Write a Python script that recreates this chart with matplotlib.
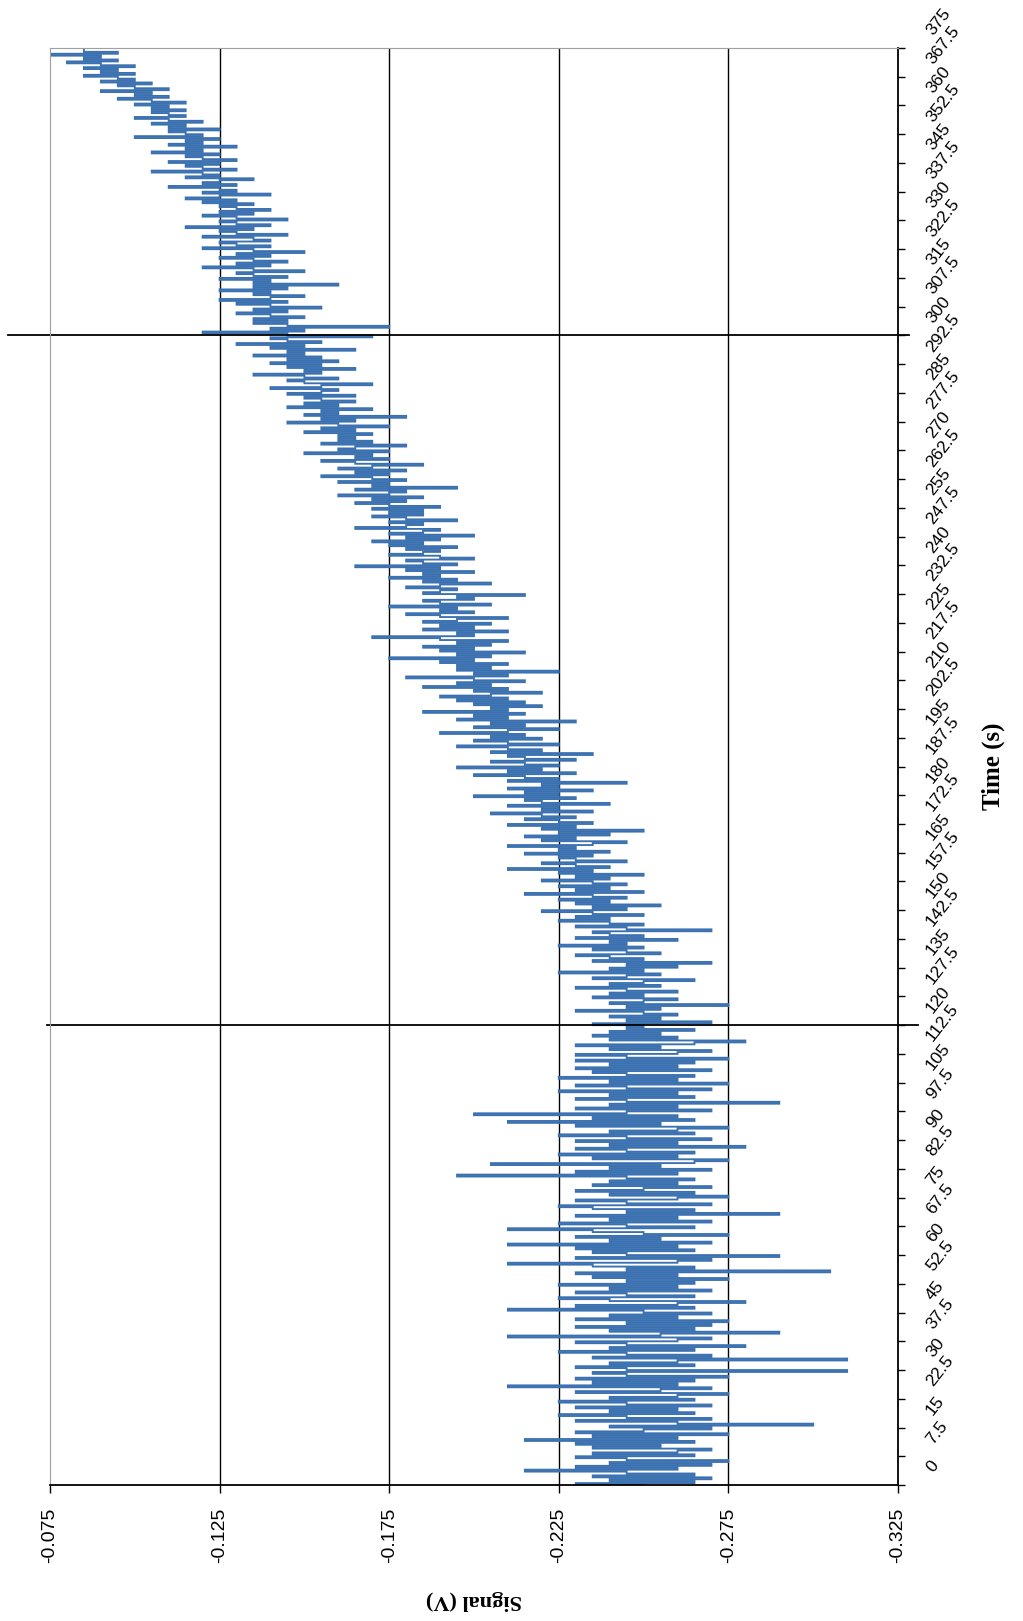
import numpy as np
import matplotlib
matplotlib.use("Agg")
import matplotlib.pyplot as plt

# ---------------- data ----------------
# signal samples (V), one every 0.5 s starting at t = 0
signal = [
    # baseline (before first event)
    -0.250, -0.230, -0.265, -0.240, -0.270, -0.235, -0.265, -0.245, -0.215, -0.260, -0.230, -0.270, -0.240, -0.275, -0.245, -0.230, -0.265, -0.235, -0.260, -0.270,
    -0.235, -0.255, -0.230, -0.265, -0.215, -0.260, -0.235, -0.275, -0.230, -0.250, -0.270, -0.240, -0.300, -0.260, -0.230, -0.270, -0.245, -0.225, -0.265, -0.240,
    -0.260, -0.230, -0.270, -0.245, -0.225, -0.265, -0.240, -0.260, -0.275, -0.230, -0.255, -0.270, -0.210, -0.260, -0.235, -0.265, -0.230, -0.275, -0.245, -0.235,
    -0.310, -0.245, -0.230, -0.265, -0.240, -0.260, -0.310, -0.235, -0.270, -0.245, -0.225, -0.265, -0.240, -0.280, -0.245, -0.230, -0.260, -0.270, -0.210, -0.255,
    -0.290, -0.240, -0.265, -0.230, -0.270, -0.245, -0.275, -0.230, -0.260, -0.240, -0.270, -0.250, -0.210, -0.265, -0.230, -0.260, -0.280, -0.240, -0.225, -0.265,
    -0.245, -0.230, -0.270, -0.240, -0.260, -0.225, -0.265, -0.245, -0.275, -0.235, -0.260, -0.230, -0.305, -0.245, -0.265, -0.235, -0.210, -0.260, -0.270, -0.230,
    -0.290, -0.245, -0.235, -0.265, -0.230, -0.260, -0.210, -0.270, -0.240, -0.255, -0.230, -0.275, -0.250, -0.235, -0.210, -0.265, -0.245, -0.225, -0.270, -0.240,
    -0.260, -0.230, -0.290, -0.245, -0.265, -0.235, -0.225, -0.270, -0.245, -0.230, -0.260, -0.275, -0.240, -0.265, -0.230, -0.250, -0.270, -0.235, -0.260, -0.240,
    -0.265, -0.245, -0.195, -0.260, -0.230, -0.270, -0.240, -0.255, -0.205, -0.265, -0.275, -0.235, -0.260, -0.225, -0.265, -0.245, -0.230, -0.280, -0.240, -0.260,
    -0.230, -0.270, -0.245, -0.225, -0.265, -0.240, -0.260, -0.275, -0.230, -0.255, -0.210, -0.265, -0.235, -0.260, -0.200, -0.245, -0.270, -0.230, -0.260, -0.240,
    -0.290, -0.245, -0.230, -0.265, -0.240, -0.260, -0.225, -0.270, -0.245, -0.230, -0.275, -0.240, -0.260, -0.225, -0.265, -0.245, -0.235, -0.270, -0.230, -0.260,
    -0.240, -0.265, -0.230, -0.275, -0.245, -0.230, -0.260, -0.270, -0.240, -0.255, -0.230, -0.265, -0.280, -0.240, -0.260, -0.235,
    # drift between the two events
    -0.255, -0.240, -0.265, -0.245, -0.250, -0.235, -0.270, -0.245, -0.255, -0.240, -0.260, -0.250, -0.230, -0.255, -0.245, -0.275, -0.240, -0.250, -0.260, -0.235,
    -0.250, -0.240, -0.260, -0.245, -0.230, -0.255, -0.240, -0.250, -0.265, -0.235, -0.245, -0.255, -0.225, -0.250, -0.240, -0.260, -0.245, -0.270, -0.235, -0.250,
    -0.240, -0.230, -0.255, -0.245, -0.235, -0.250, -0.225, -0.245, -0.240, -0.260, -0.230, -0.250, -0.240, -0.235, -0.270, -0.245, -0.230, -0.250, -0.240, -0.225,
    -0.240, -0.230, -0.250, -0.235, -0.220, -0.245, -0.235, -0.255, -0.230, -0.240, -0.225, -0.245, -0.235, -0.215, -0.250, -0.230, -0.240, -0.225, -0.245, -0.235,
    -0.220, -0.240, -0.230, -0.250, -0.225, -0.235, -0.210, -0.240, -0.230, -0.220, -0.245, -0.230,
    -0.225, -0.235, -0.215, -0.240, -0.225, -0.230, -0.210, -0.235, -0.245, -0.220, -0.230, -0.215, -0.240, -0.225, -0.250, -0.220, -0.230, -0.210, -0.235, -0.225,
    -0.215, -0.230, -0.220, -0.205, -0.235, -0.220, -0.225, -0.210, -0.240, -0.220, -0.215, -0.230, -0.200, -0.225, -0.215, -0.235, -0.210, -0.225, -0.220, -0.245,
    -0.210, -0.225, -0.215, -0.200, -0.230, -0.210, -0.220, -0.195, -0.225, -0.215, -0.205, -0.230, -0.215, -0.210, -0.235, -0.205, -0.220, -0.210, -0.195, -0.225,
    -0.210, -0.200, -0.220, -0.205, -0.215, -0.190, -0.210, -0.225, -0.200, -0.215, -0.205, -0.230, -0.195, -0.210, -0.200, -0.215, -0.185, -0.210, -0.205, -0.220,
    -0.200, -0.215, -0.195, -0.210, -0.190, -0.205, -0.220, -0.200, -0.210, -0.185, -0.205, -0.195, -0.215, -0.200, -0.180, -0.210, -0.200, -0.225, -0.195, -0.205,
    -0.195, -0.210, -0.190, -0.200, -0.175, -0.205, -0.195, -0.215, -0.190, -0.200, -0.185, -0.205, -0.195, -0.210, -0.190, -0.170, -0.200, -0.195, -0.210, -0.185,
    -0.200, -0.190, -0.205, -0.185, -0.195, -0.210, -0.190, -0.180, -0.200, -0.190, -0.195, -0.175, -0.205, -0.190, -0.185, -0.200, -0.195, -0.215, -0.185, -0.190,
    -0.195, -0.180, -0.190, -0.205, -0.185, -0.195, -0.175, -0.190, -0.185, -0.200, -0.180, -0.190, -0.165, -0.195, -0.185, -0.180, -0.200, -0.190, -0.175, -0.185,
    -0.190, -0.180, -0.195, -0.175, -0.185, -0.170, -0.190, -0.180, -0.200, -0.175, -0.185, -0.190, -0.165, -0.180, -0.185, -0.175, -0.195, -0.180, -0.170, -0.185,
    -0.175, -0.185, -0.170, -0.190, -0.175, -0.165, -0.180, -0.170, -0.185, -0.160, -0.175, -0.180, -0.165, -0.195, -0.170, -0.175, -0.160, -0.180, -0.170, -0.155,
    -0.175, -0.165, -0.180, -0.160, -0.170, -0.185, -0.165, -0.155, -0.175, -0.165, -0.170, -0.150, -0.175, -0.160, -0.165, -0.180, -0.155, -0.170, -0.160, -0.165,
    -0.160, -0.170, -0.150, -0.165, -0.155, -0.175, -0.160, -0.145, -0.165, -0.155, -0.180, -0.150, -0.160, -0.155, -0.170, -0.145, -0.160, -0.150, -0.165, -0.155,
    -0.150, -0.165, -0.145, -0.155, -0.160, -0.140, -0.155, -0.170, -0.150, -0.145, -0.160, -0.150, -0.135, -0.155, -0.150, -0.165, -0.145, -0.155, -0.140, -0.160,
    -0.145, -0.155, -0.135, -0.150, -0.145, -0.165, -0.140, -0.150, -0.130, -0.155, -0.145, -0.140, -0.170, -0.145, -0.120, -0.150, -0.140, -0.175, -0.145, -0.135,
    # after second event
    -0.145, -0.135, -0.150, -0.140, -0.130, -0.145, -0.135, -0.155, -0.140, -0.130, -0.145, -0.125, -0.140, -0.150, -0.135, -0.140, -0.125, -0.145, -0.135, -0.160,
    -0.135, -0.140, -0.125, -0.145, -0.135, -0.130, -0.150, -0.135, -0.120, -0.140, -0.130, -0.145, -0.135, -0.125, -0.140, -0.130, -0.150, -0.135, -0.120, -0.140,
    -0.130, -0.125, -0.140, -0.135, -0.120, -0.145, -0.130, -0.125, -0.135, -0.115, -0.140, -0.130, -0.125, -0.145, -0.130, -0.120, -0.135, -0.125, -0.140, -0.130,
    -0.125, -0.135, -0.120, -0.130, -0.115, -0.125, -0.140, -0.120, -0.130, -0.125, -0.110, -0.130, -0.120, -0.125, -0.135, -0.115, -0.125, -0.120, -0.105, -0.130,
    -0.120, -0.115, -0.125, -0.110, -0.130, -0.120, -0.115, -0.125, -0.105, -0.120, -0.115, -0.130, -0.110, -0.120, -0.115, -0.125, -0.100, -0.120, -0.115, -0.110,
    -0.125, -0.110, -0.115, -0.105, -0.120, -0.110, -0.100, -0.115, -0.110, -0.105,
    -0.115, -0.105, -0.110, -0.100, -0.115, -0.105, -0.095, -0.110, -0.100, -0.105, -0.090, -0.110, -0.100, -0.095, -0.105, -0.090, -0.100, -0.095, -0.085, -0.100,
    -0.090, -0.095, -0.085, -0.100, -0.090, -0.080, -0.095, -0.085, -0.090, -0.075, -0.095, -0.085,
]
sample_step = 0.5                       # s between samples
time = np.arange(len(signal)) * sample_step

event_times = [120, 300]                # vertical marker lines (s)

signal_ticks = [-0.075, -0.125, -0.175, -0.225, -0.275, -0.325]
signal_tick_labels = ["-0.075", "-0.125", "-0.175", "-0.225", "-0.275", "-0.325"]
time_tick_step = 7.5
time_tick_labels = ["0", "7.5", "15", "22.5", "30", "37.5", "45", "52.5", "60", "67.5",
                    "75", "82.5", "90", "97.5", "105", "112.5", "120", "127.5", "135",
                    "142.5", "150", "157.5", "165", "172.5", "180", "187.5", "195",
                    "202.5", "210", "217.5", "225", "232.5", "240", "247.5", "255",
                    "262.5", "270", "277.5", "285", "292.5", "300", "307.5", "315",
                    "322.5", "330", "337.5", "345", "352.5", "360", "367.5", "375"]

# ---------------- figure ----------------
W, H = 1023, 1621
fig = plt.figure(figsize=(W / 100, H / 100), dpi=100)
L, R, T, B = 50, 898, 48, 1485
ax = fig.add_axes([L / W, (H - B) / H, (R - L) / W, (B - T) / H])

ax.plot(signal, time, color="#3b71b0", lw=1.35, drawstyle="steps-post",
        solid_joinstyle="miter")

ax.set_xlim(-0.075, -0.325)
ax.set_ylim(0, 375)

# vertical (signal) grid lines
for v in signal_ticks[1:-1]:
    ax.axvline(v, color="black", lw=1.0, zorder=0.5)

# event lines, extending slightly outside the plot
trans_ax_data = ax.get_yaxis_transform()
ax.plot([-0.05, 1.013], [event_times[1]] * 2, color="black", lw=1.3,
        transform=trans_ax_data, clip_on=False)
ax.plot([-0.004, 1.024], [event_times[0]] * 2, color="black", lw=1.3,
        transform=trans_ax_data, clip_on=False)

# spines
for s in ["top", "left"]:
    ax.spines[s].set_color("#a0a0a0")
    ax.spines[s].set_linewidth(0.8)
for s in ["bottom", "right"]:
    ax.spines[s].set_color("black")
    ax.spines[s].set_linewidth(1.3)

# signal axis (bottom)
ax.set_xticks(signal_ticks)
ax.set_xticklabels(signal_tick_labels, rotation=90, family="Liberation Sans",
                   fontsize=14)
ax.tick_params(axis="x", direction="out", length=6, width=1.0, pad=10)

# time axis (right)
n_ticks = len(time_tick_labels)
ax.set_yticks([i * time_tick_step for i in range(n_ticks)])
ax.yaxis.tick_right()
ax.set_yticklabels([])
ax.tick_params(axis="y", direction="out", length=5, width=1.0)
for i, lab in enumerate(time_tick_labels):
    ax.text(1.037, i * time_tick_step + time_tick_step / 2, lab,
            transform=trans_ax_data, rotation=52, rotation_mode="anchor",
            ha="left", va="center", fontsize=12.5, family="Liberation Sans",
            clip_on=False)

ax.text(1.112, 0.5, "Time (s)", transform=ax.transAxes, rotation=90,
        ha="center", va="center", fontsize=18, fontweight="bold",
        family="Liberation Serif")
ax.text(0.5, -0.080, "Signal (V)", transform=ax.transAxes, rotation=180,
        ha="center", va="center", fontsize=16, fontweight="bold",
        family="Liberation Serif")

fig.savefig("out.png", dpi=100)
